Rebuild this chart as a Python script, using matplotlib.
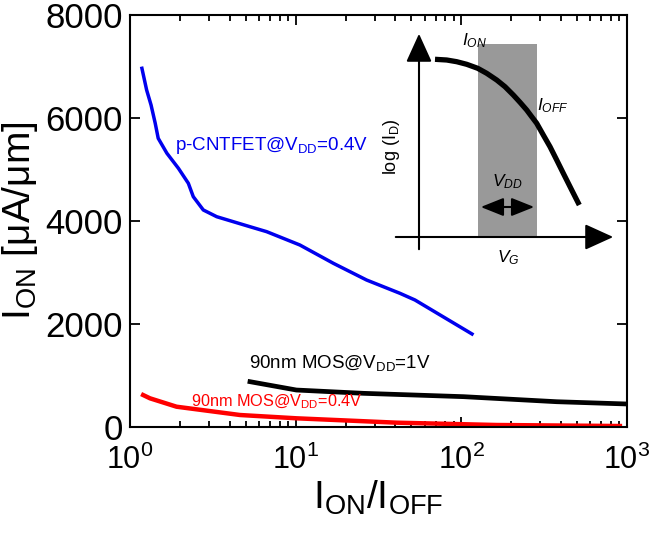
import matplotlib.pyplot as plt

plt.rcParams['font.family'] = ['Liberation Sans', 'DejaVu Sans']
plt.rcParams['mathtext.fontset'] = 'custom'
plt.rcParams['mathtext.rm'] = 'Liberation Sans'
plt.rcParams['mathtext.it'] = 'Liberation Sans:italic'
plt.rcParams['mathtext.bf'] = 'Liberation Sans:bold'

# p-CNTFET @ VDD=0.4V
cnt_ratio = [1.18, 1.26, 1.34, 1.42, 1.48, 1.67, 1.96, 2.25, 2.41, 2.77, 3.34, 5.30,
             6.68, 10.6, 16.9, 26.8, 42.6, 52.5, 116]
cnt_ion = [6965, 6544, 6252, 5897, 5606, 5315, 5023, 4732, 4472, 4214, 4083, 3889,
           3793, 3534, 3178, 2854, 2596, 2466, 1806]

# 90nm MOS @ VDD=1V
mos1_ratio = [5.30, 10.1, 25.6, 103, 376, 995]
mos1_ion = [880, 718, 654, 589, 491, 447]

# 90nm MOS @ VDD=0.4V
mos04_ratio = [1.20, 1.32, 1.91, 4.61, 10.1, 40.7, 163, 906]
mos04_ion = [621, 557, 394, 233, 169, 84, 39, 19]

# inset schematic (figure pixel coords, sketch only)
sketch_vg = [435, 446.7, 456.7, 466.7, 477.7, 486.7, 496.7, 505, 513.3, 520, 526.7,
             531.7, 536.7, 543.3, 550, 556.7, 563.3, 571.7, 579.3]
sketch_logid = [59.3, 60, 61.7, 64.3, 68.3, 73.3, 80, 86.7, 95, 102.3, 110,
                116.7, 123.3, 135, 146.7, 160, 173.3, 190, 205]

fig = plt.figure(figsize=(6.5, 5.42), dpi=100)
ax = fig.add_axes([130/650, 1-427/542, (627-130)/650, (427-15)/542])

ax.plot(cnt_ratio, cnt_ion, color='#0000ee', lw=2.5)
ax.plot(mos1_ratio, mos1_ion, color='black', lw=3.4)
ax.plot(mos04_ratio, mos04_ion, color='#ff0000', lw=3.2)

ax.set_xscale('log')
ax.set_xlim(1, 1000)
ax.set_ylim(0, 8000)
ax.set_yticks([0, 2000, 4000, 6000, 8000])
ax.tick_params(which='both', direction='in', top=True, right=True, width=1.3)
ax.tick_params(axis='y', labelsize=25, pad=5)
ax.tick_params(axis='x', labelsize=22, pad=13)
ax.tick_params(which='major', length=7)
ax.tick_params(which='minor', length=4)
for s in ax.spines.values():
    s.set_linewidth(1.5)

ax.set_ylabel(r'I$_{\mathrm{ON}}$ [μA/μm]', fontsize=28, labelpad=4)
ax.set_xlabel(r'I$_{\mathrm{ON}}$/I$_{\mathrm{OFF}}$', fontsize=28, labelpad=2)

ax.text(1.87, 5380, r'p-CNTFET@V$_{\mathrm{DD}}$=0.4V', color='#0000ee', fontsize=13.5)
ax.text(5.23, 1146, r'90nm MOS@V$_{\mathrm{DD}}$=1V', color='black', fontsize=13.5)
ax.text(2.33, 408, r'90nm MOS@V$_{\mathrm{DD}}$=0.4V', color='#ff0000', fontsize=11.7)

# inset sketch in pixel space
ins = fig.add_axes([0, 0, 1, 1])
ins.set_xlim(0, 650)
ins.set_ylim(542, 0)
ins.axis('off')
ins.patch.set_alpha(0)
ins.add_patch(plt.Rectangle((478, 44), 59, 193, color='#999999', lw=0))
ins.plot(sketch_vg, sketch_logid, color='black', lw=3.8, solid_capstyle='butt')
ins.annotate('', xy=(419, 31), xytext=(419, 252),
             arrowprops=dict(arrowstyle='-|>,head_length=1.1,head_width=0.5', lw=1.5, color='black', mutation_scale=16))
ins.annotate('', xy=(616, 237), xytext=(393, 237),
             arrowprops=dict(arrowstyle='-|>,head_length=1.1,head_width=0.5', lw=1.5, color='black', mutation_scale=16))
ins.annotate('', xy=(537, 207), xytext=(478, 207),
             arrowprops=dict(arrowstyle='<|-|>,head_length=1.0,head_width=0.4', lw=1.5, color='black', mutation_scale=14))
ins.text(475, 41, r'$I_{ON}$', fontsize=12.5, ha='center', va='center')
ins.text(553, 106, r'$I_{OFF}$', fontsize=12.5, ha='center', va='center')
ins.text(507, 182, r'$V_{DD}$', fontsize=12.5, ha='center', va='center')
ins.text(508, 258, r'$V_{G}$', fontsize=12.5, ha='center', va='center')
ins.text(391, 147, r'log (I$_{\mathrm{D}}$)', fontsize=13, rotation=90, ha='center', va='center')

fig.savefig('out.png', dpi=100)
